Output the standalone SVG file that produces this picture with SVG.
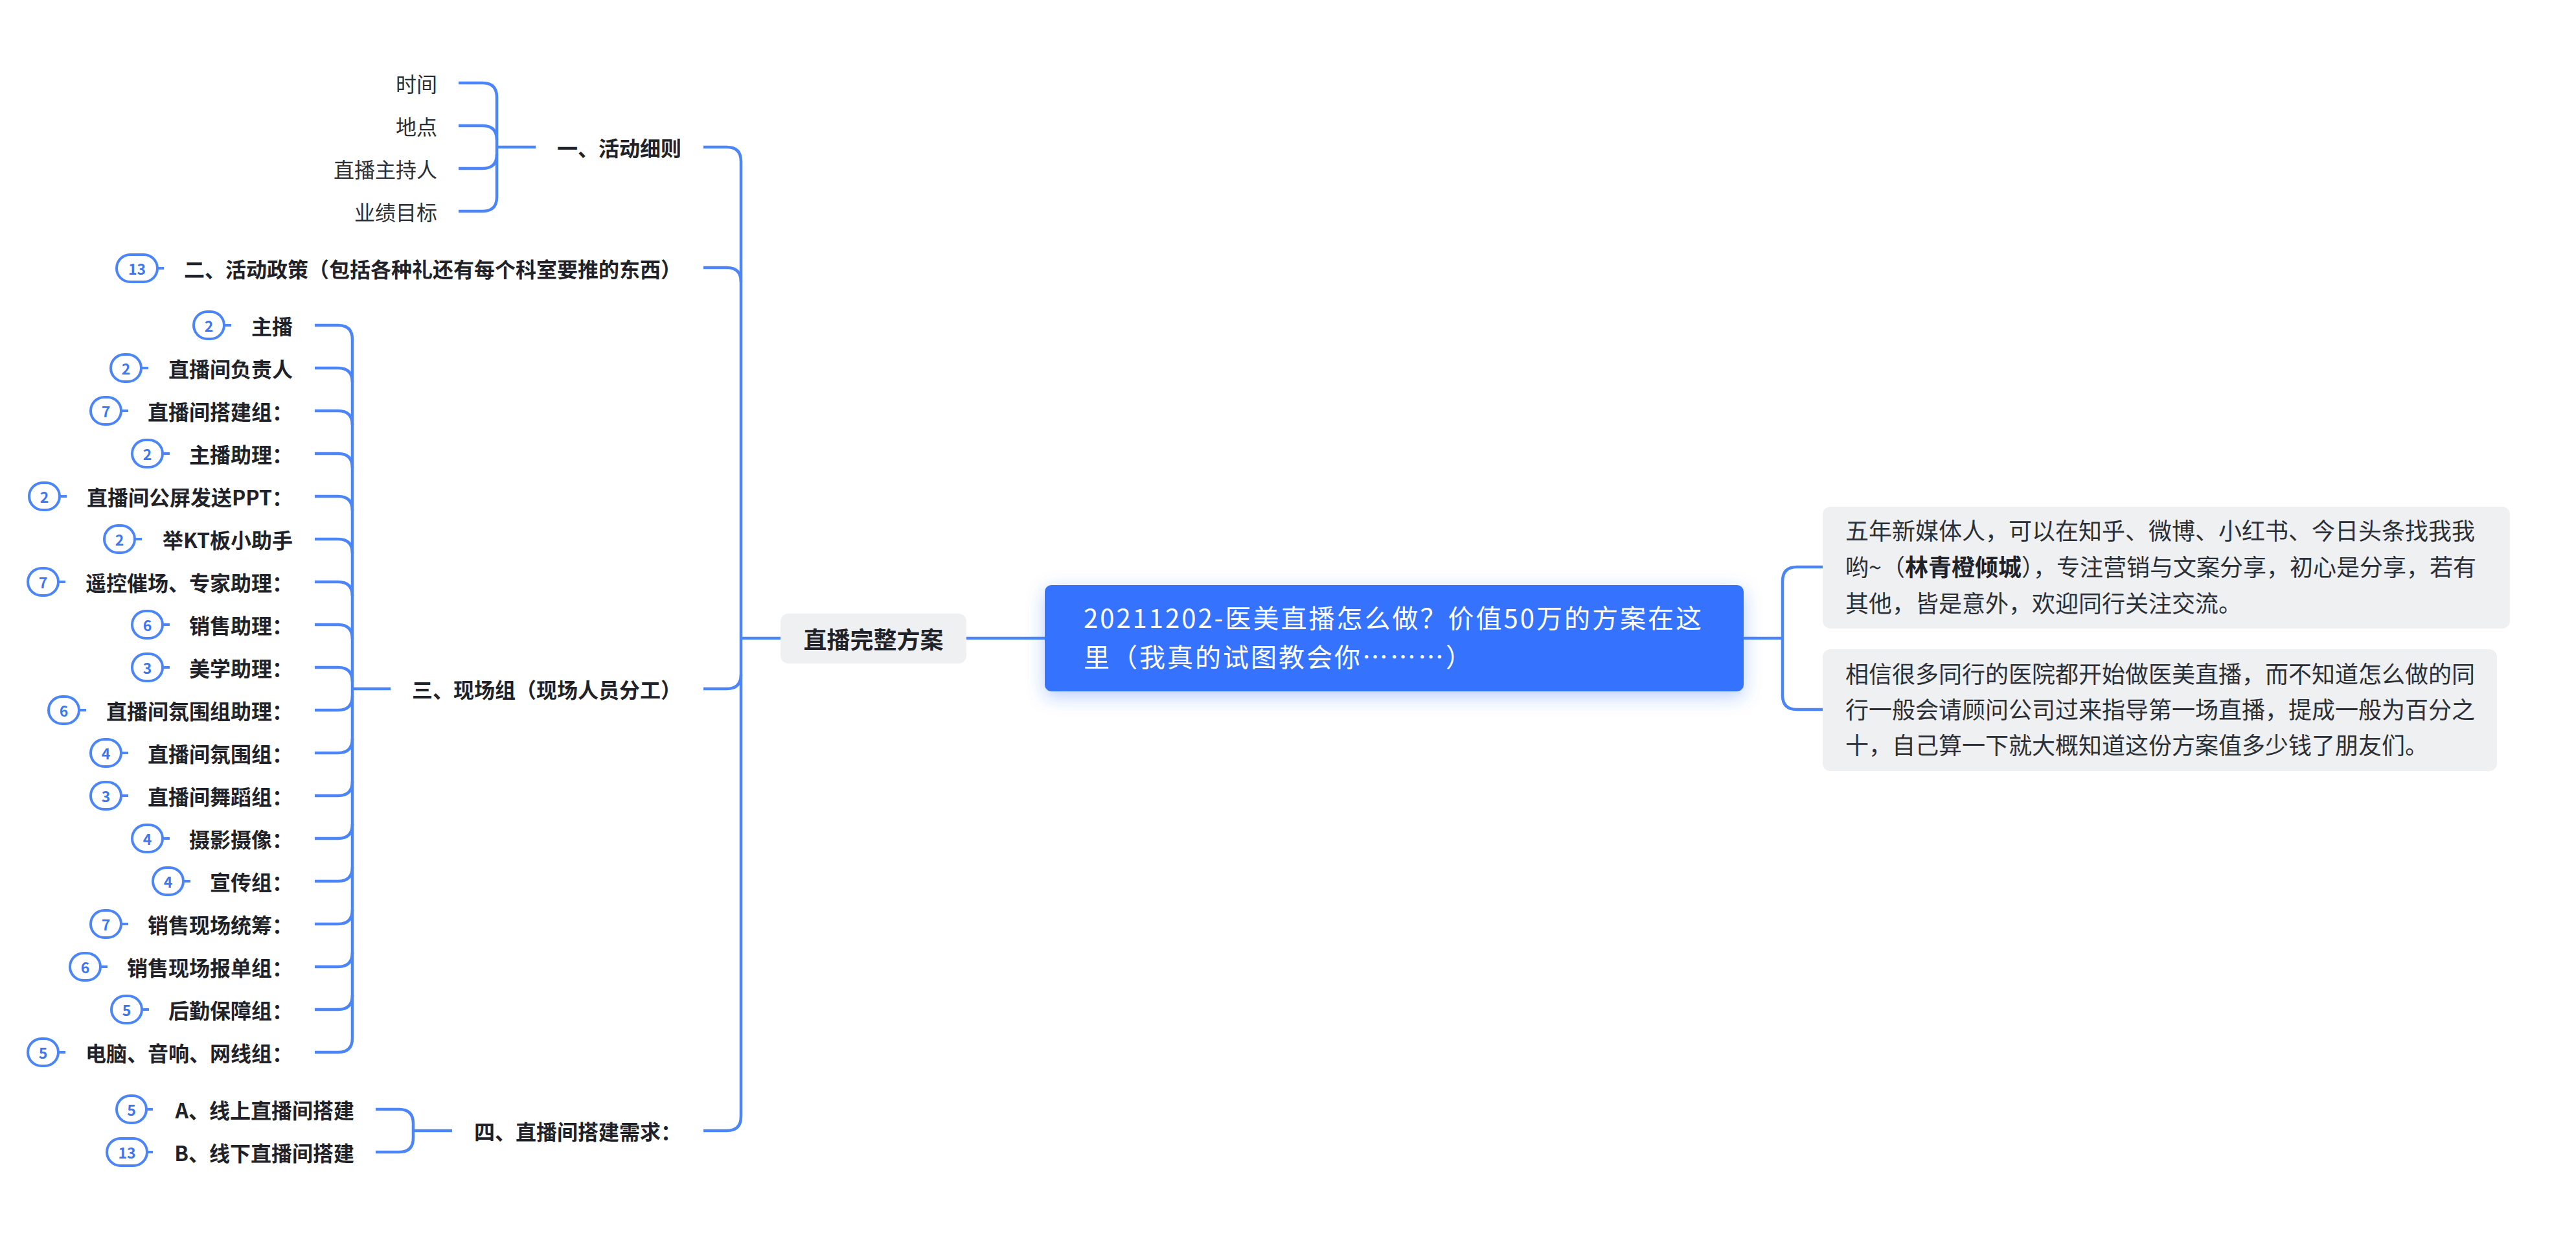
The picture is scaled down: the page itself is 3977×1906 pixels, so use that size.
<svg xmlns="http://www.w3.org/2000/svg" width="3977" height="1906" viewBox="0 0 3977 1906">
<defs>
<style>
text{font-family:"Noto Sans CJK SC","Noto Sans",sans-serif;dominant-baseline:central}
.b{font-size:32px;font-weight:700;fill:#1f2329;text-anchor:end}
.r{font-size:32px;font-weight:400;fill:#2b2f36;text-anchor:end}
.note{font-size:36px;font-weight:400;fill:#2b2f36}
.rt{font-size:40px;letter-spacing:3px;fill:#fff}
.badge rect{fill:#fff;stroke:#4b85f7;stroke-width:4}
.badge line{stroke:#4b85f7;stroke-width:4}
.badge text{font-size:23px;font-weight:700;fill:#3b77f2;text-anchor:middle}
.conn path{fill:none;stroke:#4b85f7;stroke-width:4.5;stroke-linecap:butt}
</style>
<filter id="glow" x="-10%" y="-30%" width="120%" height="170%">
<feDropShadow dx="0" dy="8" stdDeviation="14" flood-color="#3673fe" flood-opacity="0.35"/>
</filter>
</defs>
<rect width="3977" height="1906" fill="#fff"/>

<g class="conn" id="connectors">
<!-- root to right notes -->
<path d="M2692 985 H2752"/>
<path d="M2752 897 V1073"/>
<path d="M2814 875 H2774 Q2752 875 2752 897"/>
<path d="M2814 1095 H2774 Q2752 1095 2752 1073"/>
<!-- root to left -->
<path d="M1492 985 H1613"/>
<path d="M1144 985 H1205"/>
<!-- trunk -->
<path d="M1144 249 V1723"/>
<path d="M1086 227 H1122 Q1144 227 1144 249"/>
<path d="M1086 413 H1122 Q1144 413 1144 435"/>
<path d="M1086 1063 H1122 Q1144 1063 1144 1041"/>
<path d="M1086 1745 H1122 Q1144 1745 1144 1723"/>
<!-- group 一 -->
<path d="M767 227 H827"/>
<path d="M767 150 V304"/>
<path d="M708 128 H745 Q767 128 767 150"/>
<path d="M708 194 H745 Q767 194 767 216"/>
<path d="M708 260 H745 Q767 260 767 238"/>
<path d="M708 326 H745 Q767 326 767 304"/>
<!-- group 三 -->
<path d="M544 1063 H603"/>
<path d="M544 524 V1602"/>
<path d="M486 502 H522 Q544 502 544 524"/>
<path d="M486 568 H522 Q544 568 544 590"/>
<path d="M486 634 H522 Q544 634 544 656"/>
<path d="M486 700 H522 Q544 700 544 722"/>
<path d="M486 766 H522 Q544 766 544 788"/>
<path d="M486 832 H522 Q544 832 544 854"/>
<path d="M486 898 H522 Q544 898 544 920"/>
<path d="M486 964 H522 Q544 964 544 986"/>
<path d="M486 1030 H522 Q544 1030 544 1052"/>
<path d="M486 1096 H522 Q544 1096 544 1074"/>
<path d="M486 1162 H522 Q544 1162 544 1140"/>
<path d="M486 1228 H522 Q544 1228 544 1206"/>
<path d="M486 1294 H522 Q544 1294 544 1272"/>
<path d="M486 1360 H522 Q544 1360 544 1338"/>
<path d="M486 1426 H522 Q544 1426 544 1404"/>
<path d="M486 1492 H522 Q544 1492 544 1470"/>
<path d="M486 1558 H522 Q544 1558 544 1536"/>
<path d="M486 1624 H522 Q544 1624 544 1602"/>
<!-- group 四 -->
<path d="M638 1745 H698"/>
<path d="M638 1734 V1756"/>
<path d="M580 1712 H616 Q638 1712 638 1734"/>
<path d="M580 1778 H616 Q638 1778 638 1756"/>
</g>

<g id="root">
<rect x="1613" y="903" width="1079" height="164" rx="10" fill="#3673fe" filter="url(#glow)"/>
<text class="rt" x="1673" y="952">20211202-医美直播怎么做？价值50万的方案在这</text>
<text class="rt" x="1673" y="1012">里（我真的试图教会你………）</text>
</g>

<g id="plan">
<rect x="1205" y="947" width="287" height="77" rx="12" fill="#eff0f2"/>
<text x="1348.5" y="985" style="font-size:36px;font-weight:700;fill:#1f2329;text-anchor:middle">直播完整方案</text>
</g>

<g id="note1">
<rect x="2814" y="782" width="1061" height="188" rx="12" fill="#eff0f2"/>
<text class="note" x="2849" y="817">五年新媒体人，可以在知乎、微博、小红书、今日头条找我我</text>
<text class="note" x="2849" y="873">哟~（<tspan font-weight="700" fill="#1f2329">林青橙倾城</tspan>），专注营销与文案分享，初心是分享，若有</text>
<text class="note" x="2849" y="929">其他，皆是意外，欢迎同行关注交流。</text>
</g>
<g id="note2">
<rect x="2814" y="1002" width="1041" height="188" rx="12" fill="#eff0f2"/>
<text class="note" x="2849" y="1038">相信很多同行的医院都开始做医美直播，而不知道怎么做的同</text>
<text class="note" x="2849" y="1093">行一般会请顾问公司过来指导第一场直播，提成一般为百分之</text>
<text class="note" x="2849" y="1148">十，自己算一下就大概知道这份方案值多少钱了朋友们。</text>
</g>

<g id="n1"><text class="b" x="1052" y="227">一、活动细则</text></g>
<g id="n1-1"><text class="r" x="675" y="128">时间</text></g>
<g id="n1-2"><text class="r" x="675" y="194">地点</text></g>
<g id="n1-3"><text class="r" x="675" y="260">直播主持人</text></g>
<g id="n1-4"><text class="r" x="675" y="326">业绩目标</text></g>

<g id="n2">
<g class="badge"><rect x="180" y="393" width="63" height="42" rx="21"/><line x1="243" y1="414" x2="253" y2="414"/><text x="211.5" y="414">13</text></g>
<text class="b" x="1052" y="414">二、活动政策（包括各种礼还有每个科室要推的东西）</text>
</g>

<g id="n3"><text class="b" x="1052" y="1063">三、现场组（现场人员分工）</text></g>

<g id="n3-1"><g class="badge"><rect x="299" y="481" width="47" height="42" rx="21"/><line x1="346" y1="502" x2="357" y2="502"/><text x="322.5" y="502">2</text></g><text class="b" x="452" y="502">主播</text></g>
<g id="n3-2"><g class="badge"><rect x="171" y="547" width="47" height="42" rx="21"/><line x1="218" y1="568" x2="229" y2="568"/><text x="194.5" y="568">2</text></g><text class="b" x="452" y="568">直播间负责人</text></g>
<g id="n3-3"><g class="badge"><rect x="140" y="613" width="47" height="42" rx="21"/><line x1="187" y1="634" x2="198" y2="634"/><text x="163.5" y="634">7</text></g><text class="b" x="452" y="634">直播间搭建组：</text></g>
<g id="n3-4"><g class="badge"><rect x="204" y="679" width="47" height="42" rx="21"/><line x1="251" y1="700" x2="262" y2="700"/><text x="227.5" y="700">2</text></g><text class="b" x="452" y="700">主播助理：</text></g>
<g id="n3-5"><g class="badge"><rect x="45" y="745" width="47" height="42" rx="21"/><line x1="92" y1="766" x2="103" y2="766"/><text x="68.5" y="766">2</text></g><text class="b" x="452" y="766">直播间公屏发送PPT：</text></g>
<g id="n3-6"><g class="badge"><rect x="161" y="811" width="47" height="42" rx="21"/><line x1="208" y1="832" x2="219" y2="832"/><text x="184.5" y="832">2</text></g><text class="b" x="452" y="832">举KT板小助手</text></g>
<g id="n3-7"><g class="badge"><rect x="43" y="877" width="47" height="42" rx="21"/><line x1="90" y1="898" x2="101" y2="898"/><text x="66.5" y="898">7</text></g><text class="b" x="452" y="898">遥控催场、专家助理：</text></g>
<g id="n3-8"><g class="badge"><rect x="204" y="943" width="47" height="42" rx="21"/><line x1="251" y1="964" x2="262" y2="964"/><text x="227.5" y="964">6</text></g><text class="b" x="452" y="964">销售助理：</text></g>
<g id="n3-9"><g class="badge"><rect x="204" y="1009" width="47" height="42" rx="21"/><line x1="251" y1="1030" x2="262" y2="1030"/><text x="227.5" y="1030">3</text></g><text class="b" x="452" y="1030">美学助理：</text></g>
<g id="n3-10"><g class="badge"><rect x="75" y="1075" width="47" height="42" rx="21"/><line x1="122" y1="1096" x2="133" y2="1096"/><text x="98.5" y="1096">6</text></g><text class="b" x="452" y="1096">直播间氛围组助理：</text></g>
<g id="n3-11"><g class="badge"><rect x="140" y="1141" width="47" height="42" rx="21"/><line x1="187" y1="1162" x2="198" y2="1162"/><text x="163.5" y="1162">4</text></g><text class="b" x="452" y="1162">直播间氛围组：</text></g>
<g id="n3-12"><g class="badge"><rect x="140" y="1207" width="47" height="42" rx="21"/><line x1="187" y1="1228" x2="198" y2="1228"/><text x="163.5" y="1228">3</text></g><text class="b" x="452" y="1228">直播间舞蹈组：</text></g>
<g id="n3-13"><g class="badge"><rect x="204" y="1273" width="47" height="42" rx="21"/><line x1="251" y1="1294" x2="262" y2="1294"/><text x="227.5" y="1294">4</text></g><text class="b" x="452" y="1294">摄影摄像：</text></g>
<g id="n3-14"><g class="badge"><rect x="236" y="1339" width="47" height="42" rx="21"/><line x1="283" y1="1360" x2="294" y2="1360"/><text x="259.5" y="1360">4</text></g><text class="b" x="452" y="1360">宣传组：</text></g>
<g id="n3-15"><g class="badge"><rect x="140" y="1405" width="47" height="42" rx="21"/><line x1="187" y1="1426" x2="198" y2="1426"/><text x="163.5" y="1426">7</text></g><text class="b" x="452" y="1426">销售现场统筹：</text></g>
<g id="n3-16"><g class="badge"><rect x="108" y="1471" width="47" height="42" rx="21"/><line x1="155" y1="1492" x2="166" y2="1492"/><text x="131.5" y="1492">6</text></g><text class="b" x="452" y="1492">销售现场报单组：</text></g>
<g id="n3-17"><g class="badge"><rect x="172" y="1537" width="47" height="42" rx="21"/><line x1="219" y1="1558" x2="230" y2="1558"/><text x="195.5" y="1558">5</text></g><text class="b" x="452" y="1558">后勤保障组：</text></g>
<g id="n3-18"><g class="badge"><rect x="43" y="1603" width="47" height="42" rx="21"/><line x1="90" y1="1624" x2="101" y2="1624"/><text x="66.5" y="1624">5</text></g><text class="b" x="452" y="1624">电脑、音响、网线组：</text></g>

<g id="n4"><text class="b" x="1052" y="1745">四、直播间搭建需求：</text></g>
<g id="n4-1"><g class="badge"><rect x="180" y="1691" width="46" height="42" rx="21"/><line x1="226" y1="1712" x2="236" y2="1712"/><text x="203" y="1712">5</text></g><text class="b" x="547" y="1712">A、线上直播间搭建</text></g>
<g id="n4-2"><g class="badge"><rect x="165" y="1757" width="62" height="42" rx="21"/><line x1="227" y1="1778" x2="236" y2="1778"/><text x="196" y="1778">13</text></g><text class="b" x="547" y="1778">B、线下直播间搭建</text></g>
</svg>
